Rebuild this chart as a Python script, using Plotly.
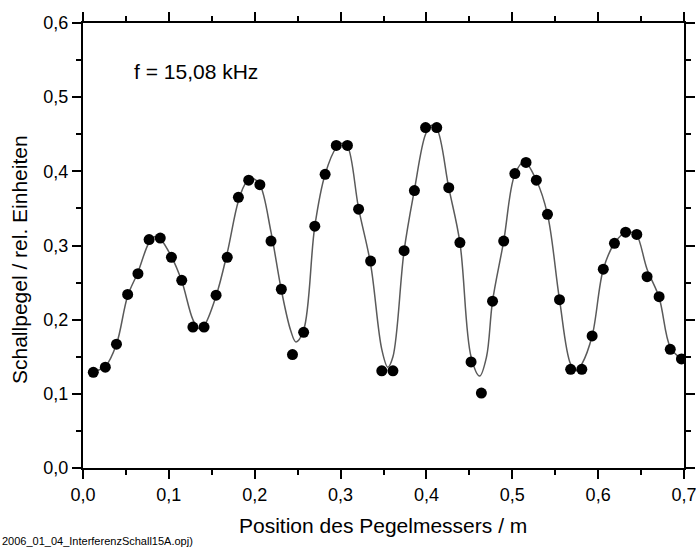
import plotly.graph_objects as go

# measured data points
pos_m = [0.012, 0.026, 0.039, 0.052, 0.064, 0.077, 0.090, 0.103, 0.115, 0.128,
         0.141, 0.155, 0.168, 0.181, 0.193, 0.206, 0.219, 0.231, 0.244, 0.257,
         0.270, 0.282, 0.295, 0.308, 0.321, 0.335, 0.348, 0.361, 0.374, 0.386,
         0.399, 0.412, 0.426, 0.439, 0.452, 0.464, 0.477, 0.490, 0.503, 0.516,
         0.528, 0.541, 0.555, 0.568, 0.581, 0.593, 0.606, 0.619, 0.632, 0.645,
         0.657, 0.671, 0.684, 0.697]
level = [0.129, 0.136, 0.167, 0.234, 0.262, 0.308, 0.310, 0.284, 0.253, 0.190,
         0.190, 0.233, 0.284, 0.365, 0.388, 0.382, 0.306, 0.241, 0.153, 0.183,
         0.326, 0.396, 0.435, 0.435, 0.349, 0.279, 0.131, 0.131, 0.293, 0.374,
         0.459, 0.459, 0.378, 0.304, 0.143, 0.101, 0.225, 0.306, 0.397, 0.412,
         0.388, 0.342, 0.227, 0.133, 0.133, 0.178, 0.268, 0.303, 0.318, 0.315,
         0.258, 0.231, 0.160, 0.147]

# fitted curve
fit_x = [0.012, 0.026, 0.039, 0.052, 0.064, 0.077, 0.084, 0.090, 0.103, 0.115,
         0.128, 0.135, 0.141, 0.155, 0.168, 0.181, 0.190, 0.198, 0.206, 0.219,
         0.231, 0.242, 0.248, 0.257, 0.270, 0.282, 0.295, 0.302, 0.308, 0.321,
         0.335, 0.348, 0.355, 0.361, 0.374, 0.386, 0.399, 0.406, 0.412, 0.426,
         0.439, 0.452, 0.462, 0.470, 0.477, 0.490, 0.503, 0.514, 0.528, 0.541,
         0.555, 0.568, 0.575, 0.581, 0.593, 0.606, 0.619, 0.632, 0.639, 0.645,
         0.657, 0.671, 0.684, 0.697]
fit_y = [0.130, 0.137, 0.167, 0.232, 0.264, 0.304, 0.312, 0.309, 0.285, 0.252,
         0.200, 0.188, 0.192, 0.232, 0.290, 0.360, 0.385, 0.390, 0.382, 0.318,
         0.240, 0.185, 0.170, 0.186, 0.326, 0.396, 0.432, 0.438, 0.434, 0.350,
         0.275, 0.160, 0.136, 0.150, 0.293, 0.375, 0.450, 0.462, 0.458, 0.378,
         0.304, 0.150, 0.124, 0.150, 0.225, 0.306, 0.396, 0.413, 0.388, 0.342,
         0.227, 0.140, 0.131, 0.140, 0.178, 0.268, 0.303, 0.318, 0.318, 0.314,
         0.268, 0.230, 0.163, 0.147]

x_title = "Position des Pegelmessers / m"
y_title = "Schallpegel / rel. Einheiten"
note = "f = 15,08 kHz"
footer = "2006_01_04_InterferenzSchall15A.opj)"

FONT = "Liberation Sans, Arial, sans-serif"

L, R, T, B = 83, 12, 23, 80
W, H = 696, 548
PW, PH = W - L - R, H - T - B

fig = go.Figure()
fig.add_trace(go.Scatter(x=fit_x, y=fit_y, mode="lines",
                         line=dict(color="#5a5a5a", width=1.5, shape="spline", smoothing=1.0),
                         hoverinfo="skip", showlegend=False))
fig.add_trace(go.Scatter(x=pos_m, y=level, mode="markers",
                         marker=dict(color="black", size=11), showlegend=False))

axis_common = dict(showline=True, linecolor="black", linewidth=2, mirror="allticks",
                   ticks="outside", ticklen=9, tickwidth=2, tickcolor="black",
                   showgrid=False, zeroline=False, tickformat=".1f", automargin=False,
                   ticklabeloverflow="allow",
                   tickfont=dict(family=FONT, size=18, color="black"))

fig.update_xaxes(range=[0, 0.7], dtick=0.1, tick0=0,
                 minor=dict(dtick=0.05, ticklen=5, tickwidth=2, tickcolor="black", ticks="outside"),
                 **axis_common)
fig.update_yaxes(range=[0, 0.6], dtick=0.1, tick0=0,
                 minor=dict(dtick=0.05, ticklen=5, tickwidth=2, tickcolor="black", ticks="outside"),
                 **axis_common)

# axis titles placed as annotations (paper coords from pixel positions)
fig.add_annotation(x=(383 - L) / PW, y=-(525 - (H - B)) / PH, xref="paper", yref="paper",
                   text=x_title, showarrow=False, xanchor="center", yanchor="middle",
                   font=dict(family=FONT, size=21, color="black"))
fig.add_annotation(x=(19 - L) / PW, y=(H - B - 260) / PH, xref="paper", yref="paper",
                   text=y_title, showarrow=False, xanchor="center", yanchor="middle", textangle=-90,
                   font=dict(family=FONT, size=21, color="black"))

fig.add_annotation(x=0.0575, y=0.534, xref="x", yref="y", text=note, showarrow=False,
                   xanchor="left", yanchor="middle",
                   font=dict(family=FONT, size=21, color="black"))
fig.add_annotation(x=-L / PW, y=-(541 - (H - B)) / PH, xref="paper", yref="paper",
                   text=footer, showarrow=False, xanchor="left", yanchor="middle",
                   font=dict(family=FONT, size=11, color="black"))

fig.update_layout(width=W, height=H, separators=",.",
                  margin=dict(l=L, r=R, t=T, b=B, autoexpand=False),
                  plot_bgcolor="white", paper_bgcolor="white",
                  font=dict(family=FONT, color="black"))

fig.write_html("out.html", config={"displayModeBar": False},
               post_script="document.body.style.margin='0';document.body.style.overflow='hidden';")
